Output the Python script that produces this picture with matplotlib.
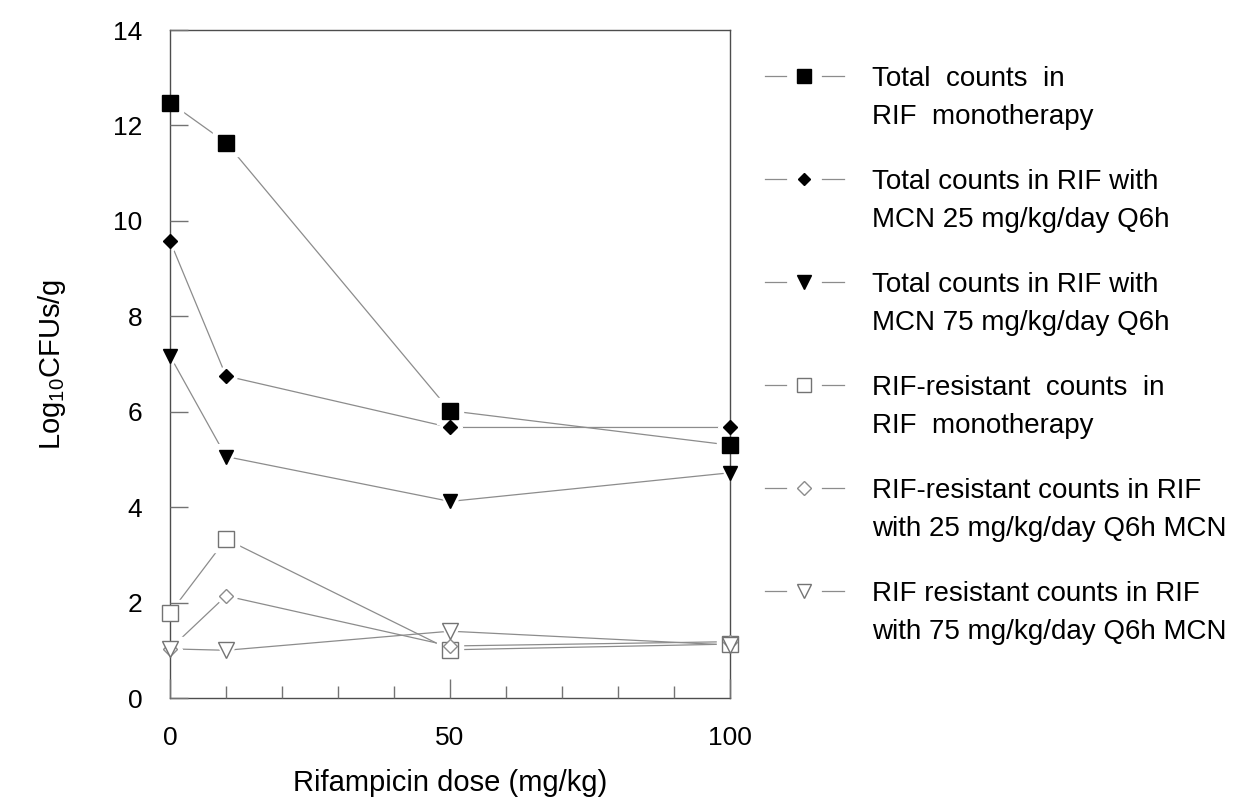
import numpy as np
from matplotlib import pyplot as plt
from matplotlib.lines import Line2D

plt.rcParams["font.family"] = ["Liberation Sans", "DejaVu Sans"]
plt.rcParams["mathtext.default"] = "regular"

dose = [0, 10, 50, 100]

total_mono = [12.48, 11.64, 6.02, 5.30]
total_mcn25 = [9.58, 6.75, 5.67, 5.67]
total_mcn75 = [7.17, 5.06, 4.12, 4.72]
res_mono = [1.78, 3.33, 1.01, 1.13]
res_mcn25 = [1.03, 2.14, 1.09, 1.18]
res_mcn75 = [1.03, 1.00, 1.40, 1.11]

labels = [
    "Total  counts  in\nRIF  monotherapy",
    "Total counts in RIF with\nMCN 25 mg/kg/day Q6h",
    "Total counts in RIF with\nMCN 75 mg/kg/day Q6h",
    "RIF-resistant  counts  in\nRIF  monotherapy",
    "RIF-resistant counts in RIF\nwith 25 mg/kg/day Q6h MCN",
    "RIF resistant counts in RIF\nwith 75 mg/kg/day Q6h MCN",
]

# marker, size, face, edge, halo size
styles = [
    ("s", 11.5, "black", "black", 19),
    ("D", 7.2, "black", "black", 12),
    ("v", 10.5, "black", "black", 18),
    ("s", 11, "white", "0.45", 19),
    ("D", 7.6, "white", "0.55", 12.5),
    ("v", 11, "white", "0.45", 18),
]
series = [total_mono, total_mcn25, total_mcn75, res_mono, res_mcn25, res_mcn75]

W, H = 1238, 799
fig = plt.figure(figsize=(W / 100, H / 100), dpi=100)
ax = fig.add_axes([170 / W, 1 - 698 / H, 560 / W, 668 / H])
ax.set_axisbelow(False)

line_col = "0.55"
for ys, (m, ms, fc, ec, hs) in zip(series, styles):
    ax.plot(dose, ys, color=line_col, lw=0.9, zorder=2, clip_on=False)
    ax.plot(dose, ys, ls="none", marker=m, ms=hs, mfc="white", mec="white",
            zorder=2.2, clip_on=False)
    ax.plot(dose, ys, ls="none", marker=m, ms=ms, mfc=fc, mec=ec, mew=1.0,
            zorder=3, clip_on=False)

ax.set_xlim(0, 100)
ax.set_ylim(0, 14)
ax.set_xticks([0, 50, 100])
ax.set_xticks(np.arange(0, 101, 10), minor=True)
ax.set_yticks(np.arange(0, 15, 2))
ax.tick_params(axis="both", which="major", direction="in", color="0.45",
               labelsize=19, width=1)
ax.tick_params(axis="x", which="major", length=14, pad=20)
ax.tick_params(axis="x", which="minor", direction="in", length=9,
               color="0.45", width=1)
ax.tick_params(axis="y", which="major", length=13, pad=20)
for s in ax.spines.values():
    s.set_color("0.3")
    s.set_linewidth(1.0)

ax.set_xlabel("Rifampicin dose (mg/kg)", fontsize=21, labelpad=14)
ax.set_ylabel(r"Log$_{\mathregular{10}}$CFUs/g", fontsize=21, labelpad=32)


def fx(px):
    return px / W


def fy(py):
    return 1 - py / H


# legend drawn on the figure to match the two-line entries
for i, (lab, (m, ms, fc, ec, hs)) in enumerate(zip(labels, styles)):
    y = 76 + i * 103
    fig.add_artist(Line2D([fx(765), fx(786)], [fy(y), fy(y)], color=line_col,
                          lw=0.9, transform=fig.transFigure))
    fig.add_artist(Line2D([fx(822), fx(844)], [fy(y), fy(y)], color=line_col,
                          lw=0.9, transform=fig.transFigure))
    fig.add_artist(Line2D([fx(804)], [fy(y)], ls="none", marker=m,
                          ms=ms * 0.9, mfc=fc, mec=ec, mew=1.0,
                          transform=fig.transFigure))
    for j, part in enumerate(lab.split("\n")):
        fig.text(fx(872), fy(y + j * 38 + 10), part, fontsize=20,
                 va="baseline", ha="left")

plt.savefig("out.png", dpi=100)
